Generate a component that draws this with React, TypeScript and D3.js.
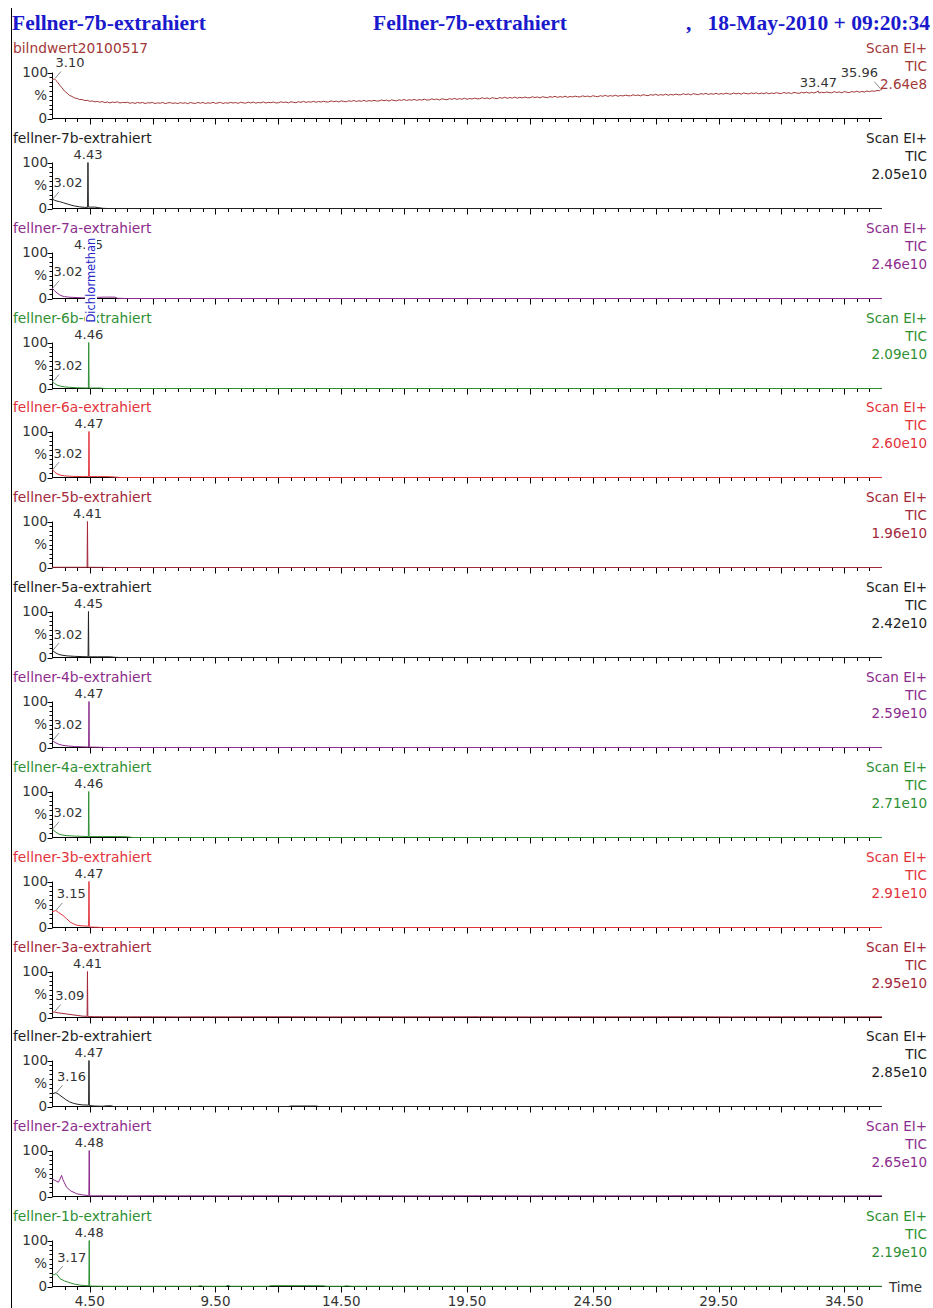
import React from "react";
import * as d3 from "d3";

type Pt = [number, number];

// ---- header ----
const TITLE = "Fellner-7b-extrahiert";
const DATE_TEXT = "18-May-2010 + 09:20:34";

// ---- one trace per sample, top to bottom ----
const sampleNames = [
  "bilndwert20100517",
  "fellner-7b-extrahiert",
  "fellner-7a-extrahiert",
  "fellner-6b-extrahiert",
  "fellner-6a-extrahiert",
  "fellner-5b-extrahiert",
  "fellner-5a-extrahiert",
  "fellner-4b-extrahiert",
  "fellner-4a-extrahiert",
  "fellner-3b-extrahiert",
  "fellner-3a-extrahiert",
  "fellner-2b-extrahiert",
  "fellner-2a-extrahiert",
  "fellner-1b-extrahiert",
];

const intensities = [
  "2.64e8", "2.05e10", "2.46e10", "2.09e10", "2.60e10", "1.96e10", "2.42e10",
  "2.59e10", "2.71e10", "2.91e10", "2.95e10", "2.85e10", "2.65e10", "2.19e10",
];

const SCAN_MODE = "Scan EI+";
const TRACE_TYPE = "TIC";

// labelled retention times per trace
const peakLabels: number[][] = [
  [3.1, 33.47, 35.96],
  [3.02, 4.43],
  [3.02, 4.45],
  [3.02, 4.46],
  [3.02, 4.47],
  [4.41],
  [3.02, 4.45],
  [3.02, 4.47],
  [3.02, 4.46],
  [3.15, 4.47],
  [3.09, 4.41],
  [3.16, 4.47],
  [4.48],
  [3.17, 4.48],
];

// compound annotations
const compoundNotes = [{ panel: 2, time: 4.45, name: "Dichlormethan" }];

// blank run: start of run, then readings every 0.1 min from 5.0 min
const blankHead: Pt[] = [
  [3.0, 84], [3.05, 85], [3.1, 86], [3.15, 83], [3.2, 80.5], [3.3, 73], [3.4, 66.5],
  [3.5, 59.5], [3.6, 55], [3.7, 50], [3.8, 48], [3.9, 44.5], [4.0, 43.5],
  [4.1, 41.2], [4.2, 41.3], [4.3, 38.9], [4.4, 39.6], [4.5, 37.4], [4.6, 38.1],
  [4.7, 36.2], [4.8, 37.3], [4.9, 35.4],
];
const BLANK_BODY_START = 5.0;
const BLANK_BODY_STEP = 0.1;
const blankBody = [
  36.8, 34.6, 35.9, 33.9, 35.7, 34.8, 36.3, 33.7, 35.0, 34.5,
  35.3, 33.1, 34.6, 32.8, 34.9, 33.5, 35.0, 32.6, 34.2, 33.8,
  34.9, 32.5, 34.1, 33.2, 35.0, 32.3, 33.9, 34.6, 32.8, 34.0,
  32.4, 34.7, 33.0, 34.3, 32.1, 34.9, 33.4, 32.7, 35.0, 33.2,
  34.9, 32.7, 34.2, 33.1, 35.3, 32.9, 34.0, 35.1, 32.6, 34.4,
  33.1, 35.2, 33.6, 34.8, 32.9, 35.4, 34.1, 33.3, 35.6, 33.8,
  35.7, 33.4, 34.9, 33.9, 36.0, 33.6, 35.2, 34.3, 35.9, 33.8,
  34.2, 36.3, 34.8, 35.9, 33.9, 36.5, 35.2, 34.4, 36.6, 35.0,
  37.2, 34.9, 36.6, 35.4, 37.5, 35.2, 36.9, 35.8, 37.6, 35.9,
  36.1, 38.3, 36.5, 37.9, 35.9, 38.4, 37.1, 36.3, 38.6, 37.2,
  39.2, 36.9, 38.7, 37.3, 39.5, 37.2, 38.9, 37.8, 39.6, 38.0,
  38.1, 40.3, 38.6, 39.9, 37.9, 40.5, 39.2, 38.4, 40.7, 39.3,
  41.4, 39.0, 40.9, 39.6, 41.7, 39.4, 41.1, 40.0, 41.9, 40.3,
  40.4, 42.7, 41.0, 42.3, 40.2, 42.9, 41.6, 40.8, 43.1, 41.7,
  43.8, 41.5, 43.2, 41.9, 44.1, 41.7, 43.5, 42.4, 44.3, 42.8,
  42.8, 45.1, 43.3, 44.7, 42.6, 45.3, 44.0, 43.1, 45.4, 44.1,
  46.2, 43.9, 45.7, 44.3, 46.5, 44.1, 45.9, 44.8, 46.6, 45.2,
  45.0, 47.3, 45.5, 46.9, 44.8, 47.4, 46.1, 45.3, 47.6, 46.2,
  48.2, 45.9, 47.6, 46.3, 48.5, 46.1, 47.9, 46.8, 48.6, 47.2,
  47.0, 49.3, 47.6, 48.8, 46.9, 49.5, 48.2, 47.3, 49.6, 48.3,
  50.4, 48.1, 49.8, 48.5, 50.7, 48.3, 50.1, 49.0, 50.8, 49.5,
  49.3, 51.6, 49.8, 51.2, 49.1, 51.8, 50.5, 49.6, 51.9, 50.6,
  52.6, 50.3, 52.0, 50.7, 52.9, 50.5, 52.3, 51.1, 53.0, 51.7,
  51.5, 53.8, 52.0, 53.4, 51.3, 54.0, 52.7, 51.8, 54.1, 52.8,
  54.6, 52.3, 54.0, 52.7, 54.9, 52.5, 54.2, 53.1, 55.0, 53.6,
  53.0, 55.3, 53.5, 54.9, 52.8, 55.5, 54.2, 53.3, 55.6, 54.2,
  55.8, 53.5, 55.2, 53.9, 56.1, 53.7, 55.4, 54.3, 56.2, 54.8,
  54.3, 56.6, 54.8, 56.2, 54.1, 56.8, 55.5, 54.6, 56.9, 55.6,
  57.4, 55.1, 56.8, 55.5, 57.6, 55.3, 57.1, 56.0, 57.7, 56.4,
  56.0, 58.3, 56.5, 57.9, 55.8, 58.5, 57.2, 56.3, 58.6, 57.3,
  59.4, 57.1, 58.8, 57.6, 59.7, 58.3, 60.1, 59.0, 61.0, 60.2,
];
const blankTail: Pt[] = [[33.47, 59.5], [35.96, 63.5], [36.0, 61.5]];

const trace7b: Pt[] = [
  [3.0, 18], [3.02, 20], [3.1, 18], [3.2, 16], [3.3, 15], [3.45, 12.5], [3.6, 10],
  [3.75, 7.5], [3.9, 5.5], [4.1, 3.5], [4.3, 2.5], [4.415, 2.5], [4.43, 100],
  [4.445, 3], [4.55, 3], [4.7, 3], [4.85, 2], [5.0, 0.5], [5.2, 0], [36, 0],
];
const trace7a: Pt[] = [
  [3.0, 19], [3.02, 22], [3.1, 17], [3.2, 12], [3.3, 8], [3.4, 5.5], [3.5, 4],
  [3.65, 3], [3.8, 2.5], [4.0, 2], [4.2, 1.5], [4.435, 1.5], [4.45, 100],
  [4.465, 1.5], [4.8, 2.5], [5.1, 3], [5.5, 3], [5.6, 0.5], [6.0, 0], [36, 0],
];
const trace6b: Pt[] = [
  [3.0, 13], [3.02, 14], [3.1, 11], [3.2, 7.5], [3.35, 5], [3.5, 3.5], [3.7, 2.5],
  [4.0, 1.5], [4.445, 1], [4.46, 100], [4.475, 1], [4.9, 1], [5.1, 0], [36, 0],
];
const trace6a: Pt[] = [
  [3.0, 16], [3.02, 17], [3.1, 12], [3.2, 8], [3.35, 5], [3.5, 3.5], [3.8, 2.5],
  [4.2, 2], [4.455, 2], [4.47, 100], [4.485, 2], [4.8, 2], [5.2, 2], [5.5, 1],
  [5.7, 0], [36, 0],
];
const trace5b: Pt[] = [
  [3.0, 0.5], [3.6, 0.5], [4.395, 0.5], [4.41, 100], [4.425, 0.5], [5.0, 0.3],
  [5.3, 0], [36, 0],
];
const trace5a: Pt[] = [
  [3.0, 14], [3.02, 15], [3.12, 11], [3.25, 7], [3.4, 5], [3.6, 3.5], [3.9, 2.5],
  [4.2, 2], [4.435, 1.5], [4.45, 100], [4.465, 1.5], [4.8, 1.5], [5.3, 1.5],
  [5.5, 0.5], [5.7, 0], [36, 0],
];
const trace4b: Pt[] = [
  [3.0, 14], [3.02, 15], [3.12, 11], [3.25, 7.5], [3.4, 5], [3.6, 3.5], [3.9, 2],
  [4.2, 1.5], [4.455, 1], [4.47, 100], [4.485, 1], [4.9, 0.5], [5.2, 0], [36, 0],
];
const trace4a: Pt[] = [
  [3.0, 17], [3.02, 18], [3.12, 13], [3.25, 8], [3.4, 5.5], [3.6, 4], [3.9, 3],
  [4.2, 2.5], [4.445, 2], [4.46, 100], [4.475, 2], [5.0, 2], [5.6, 2], [6.0, 1.5],
  [6.2, 0], [36, 0],
];
const trace3b: Pt[] = [
  [3.0, 34], [3.08, 35.5], [3.15, 37], [3.25, 33], [3.44, 26], [3.58, 19],
  [3.72, 12], [3.85, 8], [3.98, 5], [4.2, 3.5], [4.455, 3], [4.47, 100],
  [4.485, 1], [4.8, 0.5], [5.0, 0], [36, 0],
];
const trace3a: Pt[] = [
  [3.0, 11], [3.09, 12], [3.2, 10.5], [3.4, 9], [3.6, 7.5], [3.8, 6], [4.0, 4.5],
  [4.2, 3], [4.395, 2.5], [4.41, 100], [4.425, 2], [4.7, 1.8], [5.0, 1.6],
  [6, 1.4], [7, 1.6], [8, 1.3], [9, 1.5], [10, 1.4], [12, 1.6], [14, 1.3],
  [16, 1.5], [18, 1.4], [20, 1.6], [22, 1.3], [24, 1.5], [26, 1.4], [28, 1.6],
  [30, 1.3], [32, 1.5], [34, 1.4], [36, 1.5],
];
const trace2b: Pt[] = [
  [3.0, 27], [3.08, 29], [3.16, 30], [3.25, 27], [3.4, 21], [3.55, 15], [3.7, 10],
  [3.85, 7], [4.0, 5], [4.2, 3.5], [4.455, 3], [4.47, 100], [4.485, 2], [4.7, 1],
  [5.0, 0.5], [5.2, 1.5], [5.35, 1.5], [5.45, 0], [12.4, 0], [12.5, 1],
  [13.5, 1], [13.6, 0], [36, 0],
];
const trace2a: Pt[] = [
  [3.0, 38], [3.12, 35], [3.25, 31], [3.32, 38], [3.38, 46], [3.44, 36],
  [3.58, 20], [3.75, 12], [3.98, 6], [4.2, 3.5], [4.465, 2], [4.48, 100],
  [4.495, 1.5], [5.0, 1.5], [6, 1.3], [7, 1.6], [8, 1.4], [9, 1.5], [10, 1.3],
  [12, 1.6], [14, 1.4], [16, 1.5], [18, 1.3], [20, 1.6], [22, 1.4], [24, 1.5],
  [26, 1.3], [28, 1.6], [30, 1.4], [32, 1.5], [34, 1.3], [36, 1.5],
];
const trace1b: Pt[] = [
  [3.0, 25], [3.1, 26], [3.17, 28], [3.32, 17], [3.5, 12], [3.72, 8], [3.9, 5],
  [4.11, 3], [4.3, 2], [4.465, 1.5], [4.48, 100], [4.495, 1], [5.0, 0.5],
  [8.8, 0.5], [8.9, 2], [9.0, 0.5], [9.9, 0.5], [10.0, 2.5], [10.1, 0.5],
  [11.6, 0.5], [11.7, 1.8], [13.8, 1.6], [13.9, 0.5], [14.6, 0.5], [14.7, 1.5],
  [14.9, 0.5], [36, 0.5],
];

const blankTrace: Pt[] = [
  ...blankHead,
  ...blankBody.map((v, i): Pt => [BLANK_BODY_START + i * BLANK_BODY_STEP, v]),
  ...blankTail,
].sort((a, b) => a[0] - b[0]);

const traces: Pt[][] = [
  blankTrace, trace7b, trace7a, trace6b, trace6a, trace5b, trace5a,
  trace4b, trace4a, trace3b, trace3a, trace2b, trace2a, trace1b,
];

// ---- styling ----
const BLACK = "#222222";
const PURPLE = "#8c2c8c";
const GREEN = "#2f8f33";
const RED = "#e2333b";
const DARK_RED = "#a3283a";
const tracePalette = [
  "#a23838", BLACK, PURPLE, GREEN, RED, DARK_RED, BLACK,
  PURPLE, GREEN, RED, DARK_RED, BLACK, PURPLE, GREEN,
];
const TITLE_BLUE = "#1a1acc";
const NOTE_BLUE = "#2424c8";
const TEXT_GREY = "#333333";
const SANS = "'DejaVu Sans', Verdana, sans-serif";
const SERIF = "'Liberation Serif', 'Times New Roman', serif";

const W = 933;
const H = 1308;
const PLOT_LEFT = 52;
const PLOT_RIGHT = 882;
const FIRST_BASE = 118;
const PANEL_PITCH = 89.85;
const PLOT_H = 46;
const RIGHT_TEXT_X = 927;

export default function App() {
  const x = d3.scaleLinear().domain([3.0, 36.0]).range([PLOT_LEFT, PLOT_RIGHT]);
  const xTicks = d3.range(3.5, 35.75, 0.5);
  const xTickLabels = d3.range(4.5, 35, 5);
  const yTicks = d3.range(0, 101, 10);
  const fmt = d3.format(".2f");
  const isMajor = (t: number) => {
    const k = (t - 4.5) / 2.5;
    return Math.abs(k - Math.round(k)) < 1e-6;
  };

  const panelBase = (i: number) => Math.round(FIRST_BASE + i * PANEL_PITCH) + 0.5;
  const lastBase = panelBase(traces.length - 1);

  return (
    <svg
      width={W}
      height={H}
      viewBox={`0 0 ${W} ${H}`}
      style={{ position: "absolute", left: 0, top: 0, display: "block", background: "#fff" }}
    >
      <rect x={0} y={0} width={W} height={H} fill="#fff" />
      {/* left frame rule */}
      <line x1={11.5} y1={8} x2={11.5} y2={H} stroke="#000" strokeWidth={1} />

      {/* header */}
      <g fontFamily={SERIF} fontWeight="bold" fontSize={21.5} fill={TITLE_BLUE}>
        <text x={12} y={30}>{TITLE}</text>
        <text x={470} y={30} textAnchor="middle">{TITLE}</text>
        <text x={686} y={30}>,</text>
        <text x={930} y={30} textAnchor="end">{DATE_TEXT}</text>
      </g>

      {traces.map((pts, i) => {
        const base = panelBase(i);
        const y = d3.scaleLinear().domain([0, 100]).range([base, base - PLOT_H]);
        const line = d3
          .line<Pt>()
          .x((d) => x(d[0]))
          .y((d) => y(d[1]));
        const color = tracePalette[i];
        return (
          <g key={sampleNames[i]}>
            {/* sample name and scan info */}
            <text x={13} y={base - 65.5} fontFamily={SANS} fontSize={13.8} fill={color}>
              {sampleNames[i]}
            </text>
            <g fontFamily={SANS} fontSize={13.5} fill={color} textAnchor="end">
              <text x={RIGHT_TEXT_X} y={base - 65.5}>{SCAN_MODE}</text>
              <text x={RIGHT_TEXT_X} y={base - 47.5}>{TRACE_TYPE}</text>
              <text x={RIGHT_TEXT_X} y={base - 29.5}>{intensities[i]}</text>
            </g>

            {/* y axis */}
            <line x1={PLOT_LEFT + 0.5} x2={PLOT_LEFT + 0.5} y1={y(100)} y2={y(0)} stroke="#000" />
            {yTicks.map((v) => {
              const len = v === 0 || v === 100 ? 5 : 3;
              const yy = Math.round(y(v)) + 0.5;
              return (
                <line
                  key={v}
                  x1={PLOT_LEFT + 0.5 - len}
                  x2={PLOT_LEFT + 0.5}
                  y1={yy}
                  y2={yy}
                  stroke="#000"
                />
              );
            })}
            <g fontFamily={SANS} fontSize={13.5} fill={TEXT_GREY} textAnchor="end">
              <text x={48} y={y(100) + 4.5}>100</text>
              <text x={47} y={(y(0) + y(100)) / 2 + 4.5}>%</text>
              <text x={47} y={y(0) + 4}>0</text>
            </g>

            {/* x axis */}
            <line x1={PLOT_LEFT} x2={PLOT_RIGHT} y1={base} y2={base} stroke="#000" />
            {xTicks.map((t) => {
              const xx = Math.round(x(t)) + 0.5;
              return (
                <line
                  key={t}
                  x1={xx}
                  x2={xx}
                  y1={base}
                  y2={base + (isMajor(t) ? 6 : 3.5)}
                  stroke="#000"
                />
              );
            })}

            {/* trace */}
            <path d={line(pts) ?? ""} fill="none" stroke={color} strokeWidth={1} strokeLinejoin="round" />

            {/* peak labels */}
            {peakLabels[i].map((t) => {
              const p = pts.find((d) => Math.abs(d[0] - t) < 1e-6);
              if (!p) return null;
              const px = x(t);
              const py = y(p[1]);
              const txt = fmt(t);
              const common = { fontFamily: SANS, fontSize: 13, fill: TEXT_GREY } as const;
              if (px - 16 < PLOT_LEFT) {
                return (
                  <g key={t}>
                    <line x1={px + 0.5} y1={py - 0.5} x2={px + 6.5} y2={py - 7.5} stroke="#888" />
                    <text x={px + 1} y={py - 12} {...common}>{txt}</text>
                  </g>
                );
              }
              if (px + 16 > PLOT_RIGHT) {
                return (
                  <g key={t}>
                    <line x1={px - 0.5} y1={py - 0.5} x2={px - 6.5} y2={py - 7.5} stroke="#888" />
                    <text x={px - 3} y={py - 12} textAnchor="end" {...common}>{txt}</text>
                  </g>
                );
              }
              return (
                <text key={t} x={px} y={py - 4} textAnchor="middle" {...common}>
                  {txt}
                </text>
              );
            })}
          </g>
        );
      })}

      {/* time axis labels */}
      <g fontFamily={SANS} fontSize={13.5} fill={TEXT_GREY}>
        {xTickLabels.map((t) => (
          <text key={t} x={x(t)} y={lastBase + 19} textAnchor="middle">
            {fmt(t)}
          </text>
        ))}
        <text x={889} y={lastBase + 5}>Time</text>
      </g>

      {/* compound names */}
      {compoundNotes.map((n) => {
        const base = panelBase(n.panel);
        const ax = x(n.time) + 6.5;
        const ay = base + 24;
        return (
          <g key={n.name} transform={`translate(${ax},${ay}) rotate(-90)`}>
            <rect x={-1} y={-10} width={86} height={12} fill="#fff" />
            <text x={0} y={0} fontFamily={SANS} fontSize={11.5} fill={NOTE_BLUE}>
              {n.name}
            </text>
          </g>
        );
      })}
    </svg>
  );
}
